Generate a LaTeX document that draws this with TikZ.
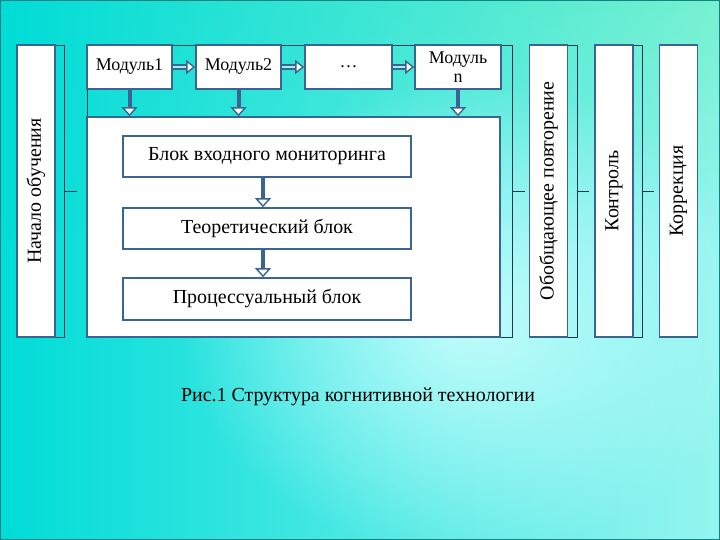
\documentclass[tikz,border=0pt]{standalone}
\usepackage{fontspec}
\setmainfont{Liberation Serif}
\usetikzlibrary{positioning}
\usetikzlibrary{arrows.meta}
\usetikzlibrary{fadings}
\definecolor{boxblue}{RGB}{58,100,145}
\definecolor{framec}{RGB}{30,55,85}
\definecolor{edgec}{RGB}{20,130,130}
\definecolor{bgcyan}{RGB}{0,220,215}
\definecolor{bglight}{RGB}{205,255,255}
\definecolor{bgright}{RGB}{150,245,240}
\definecolor{bggreen}{RGB}{110,240,200}
\definecolor{shaftc}{RGB}{160,240,245}
\tikzfading[name=softspot, inner color=transparent!0, outer color=transparent!100]
\tikzset{
    colbox/.style = {rectangle, line width=1.6bp, draw=boxblue, fill=white, rotate=90, minimum width=292bp, minimum height=38bp, font=\fontsize{20}{22}\selectfont},
    framebox/.style = {rectangle, draw=framec, line width=0.7bp, minimum height=292bp},
    modbox/.style = {rectangle, line width=1.6bp, draw=boxblue, fill=white, minimum width=85bp, minimum height=44bp, inner sep=1bp, align=center, font=\fontsize{18}{19}\selectfont},
    mainbox/.style = {rectangle, line width=1.6bp, draw=boxblue, fill=white, minimum width=413bp, minimum height=220bp},
    blockbox/.style = {rectangle, line width=1.6bp, draw=boxblue, fill=white, minimum width=288bp, minimum height=41bp, font=\fontsize{20}{22}\selectfont},
    link/.style = {draw=framec, line width=0.7bp},
    edged/.style = {draw=boxblue, line width=4bp, -{Triangle[open, fill=white, line width=1.4bp, length=9bp, width=16bp]}}, % down
    edger/.style = {draw=boxblue, line width=1.4bp, double=shaftc, double distance=2.6bp, -{Triangle[open, fill=white, line width=1.4bp, length=9bp, width=14bp]}} % right
}
\begin{document}
\begin{tikzpicture}[x=1bp, y=-1bp]
  \useasboundingbox (0,0) rectangle (720,540);
  \begin{scope}
    \clip (0,0) rectangle (720,540);
    \shade[left color=bgcyan, middle color=bglight, right color=bgright] (0,0) rectangle (720,540);
    \shade[left color=bgcyan, right color=bggreen, path fading=south, opacity=0.8] (0,0) rectangle (720,230);
    \fill[bglight, path fading=softspot, opacity=0.9] (470,320) ellipse (290 and 240);
  \end{scope}
  \draw[edgec, line width=1.2bp] (0.6,0.6) rectangle (719.4,539.4);

  % frames behind the columns
  \node[framebox, minimum width=47bp] (f1) at (40.5,191) {};
  \node[framebox, minimum width=425bp] (f2) at (299.5,191) {};
  \node[framebox, minimum width=48bp] (f3) at (553,191) {};
  \node[framebox, minimum width=47bp] (f4) at (618.5,191) {};

  \node[colbox] (start) at (36,191) {Начало обучения};
  \node[colbox] (review) at (548.5,191) {Обобщающее повторение};
  \node[colbox] (control) at (614,191) {Контроль};
  \node[colbox] (correct) at (678.5,191) {Коррекция};

  \coordinate (l1) at (77,191);
  \coordinate (l2) at (525,191);
  \coordinate (l3) at (589,191);
  \coordinate (l4) at (654,191);
  \draw[link] (f1.east) -- (l1);
  \draw[link] (f2.east) -- (l2);
  \draw[link] (f3.east) -- (l3);
  \draw[link] (f4.east) -- (l4);

  % modules
  \node[mainbox] (main) at (293.5,227) {};
  \node[modbox] (m1) at (129.5,67) {Модуль1};
  \node[modbox] (m2) at (238.5,67) {Модуль2};
  \node[modbox, minimum width=87bp] (m3) at (348.5,67) {\dots};
  \node[modbox, minimum width=86bp] (m4) at (458,67) {Модуль\\n};
  \draw[edger] (m1) -- (m2);
  \draw[edger] (m2) -- (m3);
  \draw[edger] (m3) -- (m4);
  \draw[edged] (m1.south) -- (m1.south |- main.north);
  \draw[edged] (m2.south) -- (m2.south |- main.north);
  \draw[edged] (m4.south) -- (m4.south |- main.north);

  % blocks
  \node[blockbox] (b1) at (267,156.5) {Блок входного мониторинга};
  \node[blockbox] (b2) at (267,228.5) {Теоретический блок};
  \node[blockbox, minimum height=42bp] (b3) at (267,299) {Процессуальный блок};
  \draw[edged] ([xshift=-4bp]b1.south) -- ([xshift=-4bp]b2.north);
  \draw[edged] ([xshift=-4bp]b2.south) -- ([xshift=-4bp]b3.north);

  \node[font=\fontsize{20}{22}\selectfont] (cap) at (358,397) {Рис.1 Структура когнитивной технологии};
\end{tikzpicture}
\end{document}
